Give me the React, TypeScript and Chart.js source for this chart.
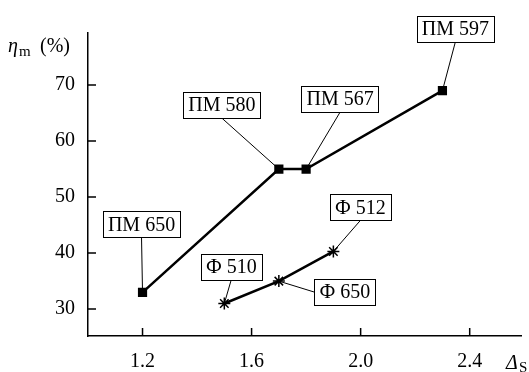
import React, { useEffect, useRef } from 'react';
import { Chart, registerables } from 'chart.js';

Chart.register(...registerables);

// ---- data ----
const pmX = [1.2, 1.7, 1.8, 2.3];
const pmY = [33, 55, 55, 69];
const pmNames = ['ПМ 650', 'ПМ 580', 'ПМ 567', 'ПМ 597'];

const fX = [1.5, 1.7, 1.9];
const fY = [31, 35, 40.3];
const fNames = ['Ф 510', 'Ф 650', 'Ф 512'];

const xTicks = [1.2, 1.6, 2.0, 2.4];
const yTicks = [30, 40, 50, 60, 70];

// ---- callout placement (box centre offset from point, in px) ----
const pmCallouts = [
  { dx: -1, dy: -68, anchor: 'bottom' },
  { dx: -57, dy: -64, anchor: 'bottom' },
  { dx: 34, dy: -70, anchor: 'bottom' },
  { dx: 13, dy: -62, anchor: 'bottom' },
];
const fCallouts = [
  { dx: 7, dy: -37, anchor: 'bottom' },
  { dx: 66, dy: 11, anchor: 'left' },
  { dx: 27, dy: -44, anchor: 'bottom' },
];

const FONT = '"Liberation Serif", "DejaVu Serif", serif';

const callouts = [
  { ds: 0, names: pmNames, place: pmCallouts },
  { ds: 1, names: fNames, place: fCallouts },
];

const plugin = {
  id: 'annot',
  beforeDatasetsDraw(chart: any) {
    const ctx = chart.ctx;
    ctx.save();
    ctx.font = `20px ${FONT}`;
    ctx.strokeStyle = '#000';
    ctx.lineWidth = 1;
    for (const c of callouts) {
      const meta = chart.getDatasetMeta(c.ds);
      c.names.forEach((name: string, i: number) => {
        const pt = meta.data[i];
        const p = c.place[i];
        const cx = pt.x + p.dx;
        const cy = pt.y + p.dy;
        const w = ctx.measureText(name).width + 10;
        const h = 26;
        let ax = cx, ay = cy + h / 2;
        if (p.anchor === 'left') { ax = cx - w / 2; ay = cy; }
        ctx.beginPath();
        ctx.moveTo(pt.x, pt.y);
        ctx.lineTo(ax, ay);
        ctx.stroke();
      });
    }
    ctx.restore();
  },
  afterDatasetsDraw(chart: any) {
    const ctx = chart.ctx;
    ctx.save();
    ctx.font = `20px ${FONT}`;
    ctx.textAlign = 'center';
    ctx.textBaseline = 'middle';
    for (const c of callouts) {
      const meta = chart.getDatasetMeta(c.ds);
      c.names.forEach((name: string, i: number) => {
        const pt = meta.data[i];
        const p = c.place[i];
        const cx = pt.x + p.dx;
        const cy = pt.y + p.dy;
        const w = ctx.measureText(name).width + 10;
        const h = 26;
        const bx = Math.round(cx - w / 2) + 0.5;
        const by = Math.round(cy - h / 2) + 0.5;
        ctx.fillStyle = '#fff';
        ctx.fillRect(bx, by, Math.round(w), h);
        ctx.strokeStyle = '#000';
        ctx.lineWidth = 1;
        ctx.strokeRect(bx, by, Math.round(w), h);
        ctx.fillStyle = '#000';
        ctx.fillText(name, cx, cy + 1);
      });
    }
    ctx.restore();
  },
  afterDraw(chart: any) {
    const ctx = chart.ctx;
    const { left, bottom } = chart.chartArea;
    const xs = chart.scales.x;
    const ys = chart.scales.y;
    ctx.save();
    ctx.strokeStyle = '#000';
    ctx.lineWidth = 1.5;
    ctx.beginPath();
    for (const v of yTicks) {
      const y = ys.getPixelForValue(v);
      ctx.moveTo(left, y);
      ctx.lineTo(left + 8, y);
    }
    for (const v of xTicks) {
      const x = xs.getPixelForValue(v);
      ctx.moveTo(x, bottom);
      ctx.lineTo(x, bottom - 8);
    }
    ctx.stroke();

    ctx.fillStyle = '#000';
    ctx.textBaseline = 'alphabetic';
    ctx.textAlign = 'left';
    // y title: eta_m (%)
    ctx.font = `italic 20px ${FONT}`;
    ctx.fillText('η', 8, 52);
    ctx.font = `15px ${FONT}`;
    ctx.fillText('m', 19, 56);
    ctx.font = `20px ${FONT}`;
    ctx.fillText('(%)', 40, 52);
    // x title: Delta_S
    ctx.font = `italic 20px ${FONT}`;
    ctx.fillText('Δ', 506, 369);
    ctx.font = `15px ${FONT}`;
    ctx.fillText('S', 519, 372);
    ctx.restore();
  },
};

export default function App() {
  const ref = useRef<HTMLCanvasElement>(null);
  useEffect(() => {
    document.body.style.margin = '0';
    const chart = new Chart(ref.current as HTMLCanvasElement, {
      type: 'scatter',
      data: {
        datasets: [
          {
            data: pmX.map((x, i) => ({ x, y: pmY[i] })),
            showLine: true,
            borderColor: '#000',
            backgroundColor: '#000',
            borderWidth: 2.5,
            pointStyle: 'rect',
            pointRadius: 6.5,
            pointBorderWidth: 0,
          },
          {
            data: fX.map((x, i) => ({ x, y: fY[i] })),
            showLine: true,
            borderColor: '#000',
            backgroundColor: '#000',
            borderWidth: 2.5,
            pointStyle: 'star',
            pointRadius: 6,
            pointBorderWidth: 1.5,
          },
        ],
      },
      options: {
        responsive: false,
        animation: false,
        layout: { padding: { top: 33, right: 0, left: 0, bottom: 0 } },
        plugins: { legend: { display: false }, tooltip: { enabled: false } },
        scales: {
          x: {
            type: 'linear',
            min: 1.0,
            max: 2.59,
            grid: { display: false, drawTicks: false },
            border: { display: true, color: '#000', width: 1.5 },
            ticks: {
              color: '#000',
              padding: 14,
              font: { family: FONT, size: 20 },
              callback: (v: any) => Number(v).toFixed(1),
            },
            afterBuildTicks: (s: any) => { s.ticks = xTicks.map((v) => ({ value: v })); },
            afterFit: (s: any) => { s.height = 36; },
          },
          y: {
            type: 'linear',
            min: 25.2,
            max: 79.3,
            grid: { display: false, drawTicks: false },
            border: { display: true, color: '#000', width: 1.5 },
            ticks: {
              color: '#000',
              padding: 13,
              font: { family: FONT, size: 20 },
              callback: (v: any) => String(v),
            },
            afterBuildTicks: (s: any) => { s.ticks = yTicks.map((v) => ({ value: v })); },
            afterFit: (s: any) => { s.width = 88; },
          },
        },
      } as any,
      plugins: [plugin],
    });
    return () => chart.destroy();
  }, []);
  return <canvas ref={ref} width={529} height={372} style={{ display: 'block', fontFamily: '"Liberation Serif"' }} />;
}
